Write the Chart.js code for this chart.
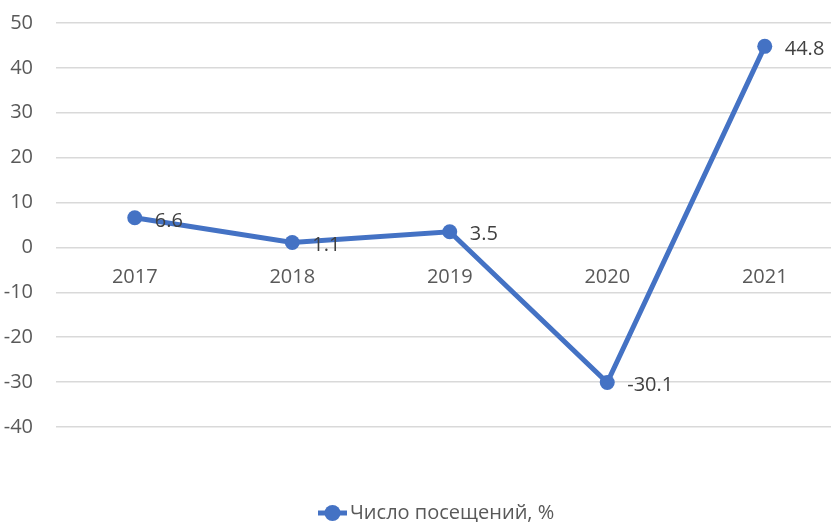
<!DOCTYPE html>
<html>
<head>
<meta charset="utf-8">
<script src="https://cdn.jsdelivr.net/npm/chart.js@4.4.0/dist/chart.umd.min.js"></script>
<style>
  html, body { margin: 0; padding: 0; background: #fff; overflow: hidden; }
  #wrap { width: 851px; height: 522px; }
</style>
</head>
<body>
<div id="wrap"><canvas id="chart" width="851" height="522"></canvas></div>
<script>
const years = ['2017', '2018', '2019', '2020', '2021'];
const visits = [6.6, 1.1, 3.5, -30.1, 44.8];
const seriesName = 'Число посещений, %';
const yMin = -40, yMax = 50, yStep = 10;

const blue = '#4472C4';
const fontFamily = "'Open Sans', 'Noto Sans', sans-serif";

// подписи значений справа от точек
const valueLabels = {
  id: 'valueLabels',
  afterDatasetsDraw(chart) {
    const ctx = chart.ctx;
    const meta = chart.getDatasetMeta(0);
    ctx.save();
    ctx.font = '20px ' + fontFamily;
    ctx.fillStyle = '#404040';
    ctx.textAlign = 'left';
    ctx.textBaseline = 'middle';
    meta.data.forEach((pt, i) => {
      ctx.fillText(String(visits[i]), pt.x + 20, pt.y + 3);
    });
    ctx.restore();
  }
};

// легенда внизу: линия с кружком и подпись
const bottomLegend = {
  id: 'bottomLegend',
  afterDraw(chart) {
    const ctx = chart.ctx;
    const y = 513;
    const x0 = 318;
    ctx.save();
    ctx.strokeStyle = blue;
    ctx.lineWidth = 5;
    ctx.beginPath();
    ctx.moveTo(x0, y);
    ctx.lineTo(x0 + 29, y);
    ctx.stroke();
    ctx.fillStyle = blue;
    ctx.beginPath();
    ctx.arc(x0 + 14.5, y, 8, 0, Math.PI * 2);
    ctx.fill();
    ctx.font = '20px ' + fontFamily;
    ctx.fillStyle = '#595959';
    ctx.textAlign = 'left';
    ctx.textBaseline = 'middle';
    ctx.fillText(seriesName, x0 + 32, y);
    ctx.restore();
  }
};

new Chart(document.getElementById('chart'), {
  type: 'line',
  data: {
    labels: years,
    datasets: [{
      label: seriesName,
      data: visits,
      borderColor: blue,
      backgroundColor: blue,
      borderWidth: 5,
      pointRadius: 7.5,
      pointHoverRadius: 7.5,
      pointBackgroundColor: blue,
      pointBorderWidth: 0,
      tension: 0
    }]
  },
  options: {
    responsive: false,
    animation: false,
    layout: { padding: { left: 0, top: 23, right: 2, bottom: 95 } },
    plugins: {
      legend: { display: false },
      tooltip: { enabled: false }
    },
    scales: {
      x: {
        position: { y: 0 },
        offset: true,
        afterFit(scale) {
          scale.height = 0;
          scale.paddingLeft = 0;
          scale.paddingRight = 0;
        },
        grid: { display: false },
        border: { display: false },
        ticks: {
          color: '#595959',
          font: { family: fontFamily, size: 20 },
          padding: 10,
          maxRotation: 0
        }
      },
      y: {
        min: yMin,
        max: yMax,
        afterFit(scale) {
          scale.width = 56;
          scale.paddingTop = 0;
          scale.paddingBottom = 0;
        },
        grid: { color: '#d9d9d9', lineWidth: 1.5, drawTicks: false },
        border: { display: false },
        ticks: {
          stepSize: yStep,
          color: '#595959',
          font: { family: fontFamily, size: 20 },
          padding: 23
        }
      }
    }
  },
  plugins: [valueLabels, bottomLegend]
});
</script>
</body>
</html>
